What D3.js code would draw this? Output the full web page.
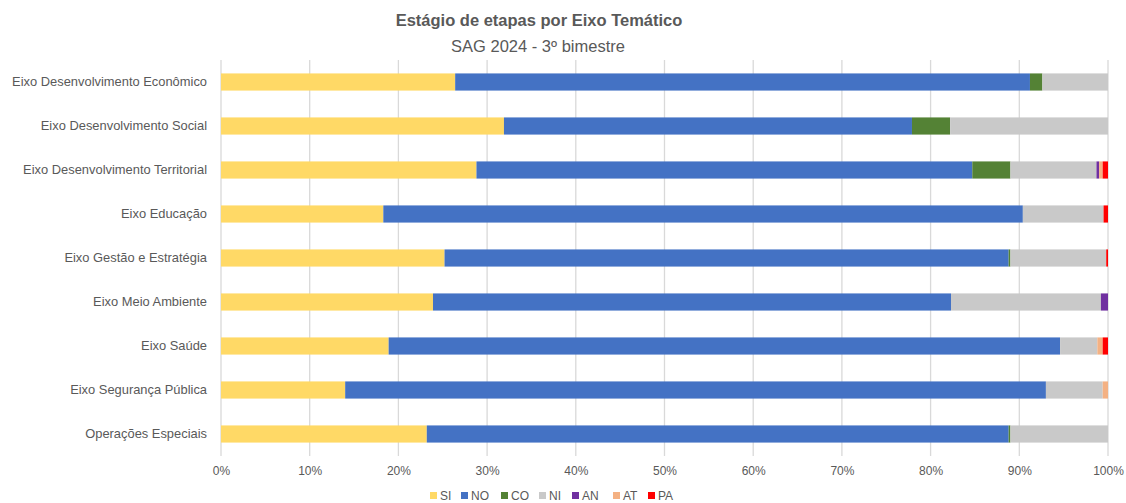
<!DOCTYPE html>
<html><head><meta charset="utf-8">
<script src="https://cdn.jsdelivr.net/npm/d3@7"></script>
<style>body{margin:0;background:#fff;}svg{display:block;font-family:"Liberation Sans",Arial,sans-serif;}</style>
</head><body><svg id="c" width="1126" height="503"></svg>
<script>
const categories = ["Eixo Desenvolvimento Econômico","Eixo Desenvolvimento Social","Eixo Desenvolvimento Territorial","Eixo Educação","Eixo Gestão e Estratégia","Eixo Meio Ambiente","Eixo Saúde","Eixo Segurança Pública","Operações Especiais"];
const seriesNames = ["SI","NO","CO","NI","AN","AT","PA"];
const SI = [26.4, 31.9, 28.8, 18.3, 25.2, 23.9, 18.9, 14.0, 23.2];
const NO = [64.8, 46.0, 55.9, 72.1, 63.6, 58.4, 75.7, 79.0, 65.6];
const CO = [1.4, 4.3, 4.3, 0, 0.2, 0, 0, 0, 0.2];
const NI = [7.4, 17.8, 9.7, 9.1, 10.8, 16.9, 4.2, 6.4, 11.0];
const AN = [0, 0, 0.3, 0, 0, 0.8, 0, 0, 0];
const AT = [0, 0, 0.4, 0, 0, 0, 0.6, 0.6, 0];
const PA = [0, 0, 0.6, 0.5, 0.2, 0, 0.6, 0, 0];
const tickValues = [0,0.1,0.2,0.3,0.4,0.5,0.6,0.7,0.8,0.9,1];
const title = "Estágio de etapas por Eixo Temático";
const subtitle = "SAG 2024 - 3º bimestre";
const colors = ["#FFD966","#4472C4","#548235","#C9C9C9","#7030A0","#F4B183","#FF0000"];

const seriesVals = [SI,NO,CO,NI,AN,AT,PA];
const rows = categories.map((c,i)=>{
  const o={cat:c}; let tot=0;
  seriesNames.forEach((s,j)=>{tot+=seriesVals[j][i];});
  seriesNames.forEach((s,j)=>{o[s]=seriesVals[j][i]/tot;});
  return o;
});
const stack = d3.stack().keys(seriesNames)(rows);

const svg = d3.select("#c");
const m = {l:221, r:1108, t:60, b:456};
const x = d3.scaleLinear().domain([0,1]).range([m.l,m.r]);
const y = d3.scaleBand().domain(categories).range([m.t,m.b]).paddingInner(0.61).paddingOuter(0.305);
const color = d3.scaleOrdinal().domain(seriesNames).range(colors);

// gridlines
svg.append("g").selectAll("line").data(tickValues).join("line")
  .attr("x1",d=>x(d)).attr("x2",d=>x(d)).attr("y1",m.t).attr("y2",m.b)
  .attr("stroke","#d9d9d9").attr("stroke-width",1.3);

// bars
svg.append("g").selectAll("g").data(stack).join("g").attr("fill",d=>color(d.key))
  .selectAll("rect").data(d=>d).join("rect")
  .attr("x",d=>x(d[0])).attr("width",d=>Math.max(0,x(d[1])-x(d[0])))
  .attr("y",d=>y(d.data.cat)).attr("height",y.bandwidth());

// x axis
const xa = svg.append("g").attr("transform",`translate(0,${m.b})`)
  .call(d3.axisBottom(x).tickValues(tickValues).tickFormat(d3.format(".0%")).tickSize(0).tickPadding(10));
xa.select(".domain").remove();
xa.selectAll("text").attr("fill","#595959").attr("font-size","12px").attr("font-family","Liberation Sans, Arial, sans-serif");

// y axis
const ya = svg.append("g").attr("transform",`translate(${m.l},0)`)
  .call(d3.axisLeft(y).tickSize(0).tickPadding(14));
ya.select(".domain").remove();
ya.selectAll("text").attr("fill","#595959").attr("font-size","12.9px").attr("font-family","Liberation Sans, Arial, sans-serif");

// titles
svg.append("text").attr("x",539).attr("y",26).attr("text-anchor","middle")
  .attr("font-size","16.5px").attr("font-weight","bold").attr("fill","#595959").text(title);
svg.append("text").attr("x",538).attr("y",52).attr("text-anchor","middle")
  .attr("font-size","16.5px").attr("fill","#595959").text(subtitle);

// legend
const legX = [430,461,501,539,572,613,648];
const lg = svg.append("g").selectAll("g").data(seriesNames).join("g")
  .attr("transform",(d,i)=>`translate(${legX[i]},495)`);
lg.append("rect").attr("x",0).attr("y",-3).attr("width",7).attr("height",7).attr("fill",d=>color(d));
lg.append("text").attr("x",10).attr("y",4.5).attr("font-size","12px").attr("fill","#595959").text(d=>d);
</script></body></html>
